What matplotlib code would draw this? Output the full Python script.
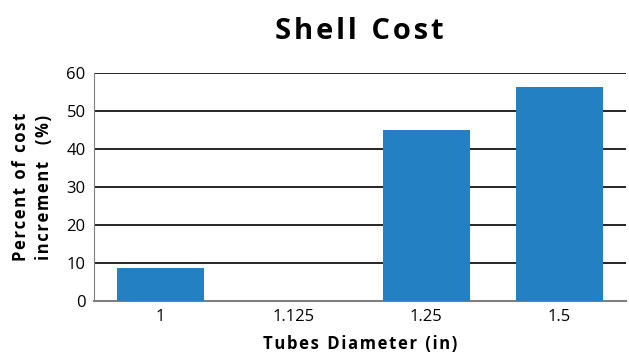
import matplotlib.pyplot as plt

# Shell cost increment by tube diameter
diameters = ['1', '1.125', '1.25', '1.5']
cost_increment = [8.7, 0.0, 45.0, 56.3]

plt.rcParams['font.family'] = ['Open Sans', 'DejaVu Sans']


def spaced(text, gap='\u200a'):
    # widen letter spacing the way the original styling does
    return '\u2002'.join(gap.join(word) for word in text.split(' '))


fig = plt.figure(figsize=(6.29, 3.53), dpi=100)
ax = fig.add_axes([0.1494, 0.1473, 0.8456, 0.6457])

x = range(len(diameters))
ax.bar(x, cost_increment, width=0.65, color='#2381C3', zorder=3)

ax.set_xlim(-0.5, len(diameters) - 0.5)
ax.set_ylim(0, 60)
ax.set_yticks(range(0, 61, 10))
ax.set_xticks(list(x))
ax.set_xticklabels(diameters)
ax.grid(axis='y', color='black', linewidth=1.2, zorder=0)
ax.tick_params(axis='both', length=0, labelsize=12, pad=6)

for side in ['top', 'right']:
    ax.spines[side].set_visible(False)
ax.spines['left'].set_color('#7f7f7f')
ax.spines['bottom'].set_color('#7f7f7f')
ax.spines['bottom'].set_linewidth(1.5)

ax.set_xlabel(spaced('Tubes Diameter (in)'), fontsize=12, fontweight='bold', labelpad=7)
ax.set_ylabel(spaced('Percent of cost') + '\n' + spaced('increment  (%)'),
              fontsize=12, fontweight='bold', labelpad=10, linespacing=1.3)
fig.text(0.572, 0.91, spaced('Shell Cost'), fontsize=21, fontweight='bold',
         ha='center', va='center')

fig.savefig('out.png', dpi=100)
